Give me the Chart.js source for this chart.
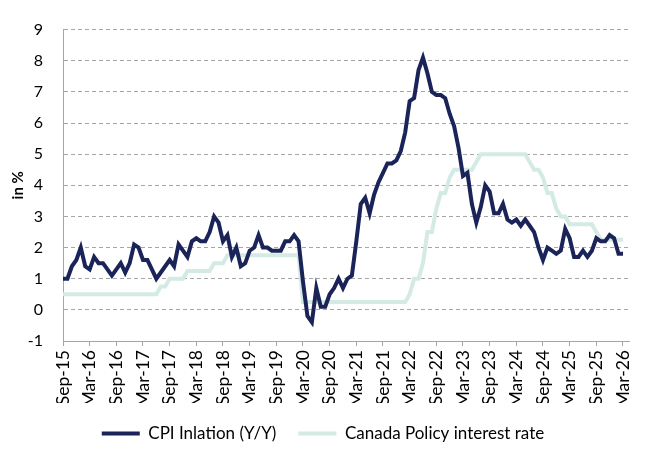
<!DOCTYPE html>
<html>
<head>
<meta charset="utf-8">
<script src="https://cdn.jsdelivr.net/npm/chart.js"></script>
<style>
  html, body { margin: 0; padding: 0; background: #fff; }
  #wrap { width: 648px; height: 452px; }
</style>
</head>
<body>
<div id="wrap"><canvas id="cpiChart" width="648" height="452"></canvas></div>
<script>
// monthly, Sep-15 .. Mar-26
const tickLabels = ["Sep-15", "Mar-16", "Sep-16", "Mar-17", "Sep-17", "Mar-18", "Sep-18", "Mar-19",
  "Sep-19", "Mar-20", "Sep-20", "Mar-21", "Sep-21", "Mar-22", "Sep-22", "Mar-23", "Sep-23",
  "Mar-24", "Sep-24", "Mar-25", "Sep-25", "Mar-26"];

const cpi = [
  1.0, 1.0, 1.4, 1.6,
  2.0, 1.4, 1.3, 1.7, 1.5, 1.5, 1.3, 1.1, 1.3, 1.5, 1.2, 1.5,
  2.1, 2.0, 1.6, 1.6, 1.3, 1.0, 1.2, 1.4, 1.6, 1.4, 2.1, 1.9,
  1.7, 2.2, 2.3, 2.2, 2.2, 2.5, 3.0, 2.8, 2.2, 2.4, 1.7, 2.0,
  1.4, 1.5, 1.9, 2.0, 2.4, 2.0, 2.0, 1.9, 1.9, 1.9, 2.2, 2.2,
  2.4, 2.2, 0.9, -0.2, -0.4, 0.7, 0.1, 0.1, 0.5, 0.7, 1.0, 0.7,
  1.0, 1.1, 2.2, 3.4, 3.6, 3.1, 3.7, 4.1, 4.4, 4.7, 4.7, 4.8,
  5.1, 5.7, 6.7, 6.8, 7.7, 8.1, 7.6, 7.0, 6.9, 6.9, 6.8, 6.3,
  5.9, 5.2, 4.3, 4.4, 3.4, 2.8, 3.3, 4.0, 3.8, 3.1, 3.1, 3.4,
  2.9, 2.8, 2.9, 2.7, 2.9, 2.7, 2.5, 2.0, 1.6, 2.0, 1.9, 1.8,
  1.9, 2.6, 2.3, 1.7, 1.7, 1.9, 1.7, 1.9, 2.3, 2.2, 2.2, 2.4,
  2.3, 1.8, 1.8
];

const policyRate = [
  0.5, 0.5, 0.5, 0.5,
  0.5, 0.5, 0.5, 0.5, 0.5, 0.5, 0.5, 0.5, 0.5, 0.5, 0.5, 0.5,
  0.5, 0.5, 0.5, 0.5, 0.5, 0.5, 0.75, 0.75, 1.0, 1.0, 1.0, 1.0,
  1.25, 1.25, 1.25, 1.25, 1.25, 1.25, 1.5, 1.5, 1.5, 1.75, 1.75, 1.75,
  1.75, 1.75, 1.75, 1.75, 1.75, 1.75, 1.75, 1.75, 1.75, 1.75, 1.75, 1.75,
  1.75, 1.75, 0.25, 0.25, 0.25, 0.25, 0.25, 0.25, 0.25, 0.25, 0.25, 0.25,
  0.25, 0.25, 0.25, 0.25, 0.25, 0.25, 0.25, 0.25, 0.25, 0.25, 0.25, 0.25,
  0.25, 0.25, 0.5, 1.0, 1.0, 1.5, 2.5, 2.5, 3.25, 3.75, 3.75, 4.25,
  4.5, 4.5, 4.5, 4.5, 4.5, 4.75, 5.0, 5.0, 5.0, 5.0, 5.0, 5.0,
  5.0, 5.0, 5.0, 5.0, 5.0, 4.75, 4.5, 4.5, 4.25, 3.75, 3.75, 3.25,
  3.0, 3.0, 2.75, 2.75, 2.75, 2.75, 2.75, 2.75, 2.5, 2.25, 2.25, 2.25,
  2.25, 2.25, 2.25
];

const gridGrey = "#a6a6a6";
Chart.defaults.font.family = "Lato, 'Liberation Sans', sans-serif";
Chart.defaults.color = "#000";

const toPoints = arr => arr.map((v, i) => ({ x: i, y: v }));

const ctx = document.getElementById("cpiChart").getContext("2d");
const chart = new Chart(ctx, {
  type: "line",
  data: {
    datasets: [
      {
        label: "CPI Inlation (Y/Y)",
        data: toPoints(cpi),
        borderColor: "#1b2459",
        backgroundColor: "#1b2459",
        borderWidth: 4,
        pointRadius: 0,
        tension: 0,
      },
      {
        label: "Canada Policy interest rate",
        data: toPoints(policyRate),
        borderColor: "#d3ebe4",
        backgroundColor: "#d3ebe4",
        borderWidth: 4,
        pointRadius: 0,
        tension: 0,
      },
    ],
  },
  options: {
    responsive: false,
    animation: false,
    layout: { padding: { top: 12, right: 2, left: 0, bottom: 0 } },
    plugins: {
      tooltip: { enabled: false },
      legend: {
        position: "bottom",
        labels: {
          boxWidth: 38,
          boxHeight: 4,
          padding: 22,
          font: { size: 17 },
          color: "#000",
          generateLabels: (c) =>
            Chart.defaults.plugins.legend.labels.generateLabels(c).map((l) => ({
              ...l,
              lineWidth: 0,
              fillStyle: l.strokeStyle,
            })),
        },
      },
    },
    scales: {
      x: {
        type: "linear",
        min: 0,
        max: 127.5,
        afterFit: (s) => { s.height = 62; },
        grid: {
          display: true,
          drawOnChartArea: false,
          drawTicks: true,
          tickLength: 5,
          color: gridGrey,
        },
        border: { display: true, color: gridGrey, width: 1 },
        ticks: {
          stepSize: 6,
          includeBounds: false,
          autoSkip: false,
          minRotation: 90,
          maxRotation: 90,
          padding: 4,
          font: { size: 17.5 },
          color: "#000",
          callback: (v) => tickLabels[v / 6],
        },
      },
      y: {
        min: -1,
        max: 9,
        afterFit: (s) => { s.width = 63; },
        grid: { color: gridGrey, drawTicks: false, lineWidth: 1 },
        border: { display: true, color: gridGrey, width: 1, dash: [4, 3] },
        ticks: {
          stepSize: 1,
          padding: 20,
          font: { size: 16 },
          color: "#000",
        },
        title: {
          display: true,
          text: "in %",
          font: { size: 15, weight: "bold" },
          color: "#000",
          padding: { top: 9, bottom: 0 },
        },
      },
    },
  },
});
</script>
</body>
</html>
